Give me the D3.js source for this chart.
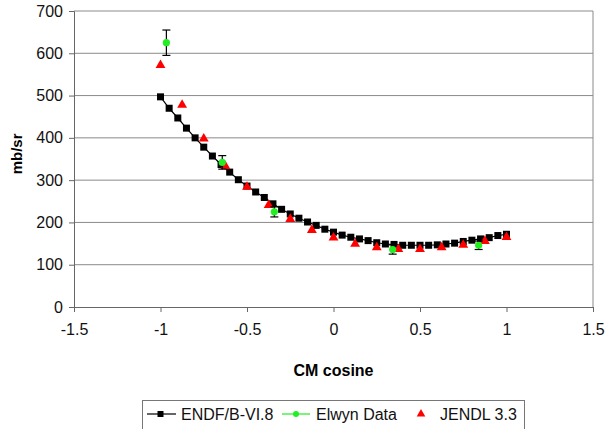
<!DOCTYPE html>
<html>
<head>
<meta charset="utf-8">
<script src="https://cdn.jsdelivr.net/npm/d3@7"></script>
<style>
  body { margin: 0; background: #fff; }
  text { font-family: "Liberation Sans", Arial, sans-serif; }
</style>
</head>
<body>
<svg id="chart" width="606" height="429"></svg>
<script>
// ENDF/B-VI.8 evaluation
let endfX = [-1, -0.95, -0.9, -0.85, -0.8, -0.75, -0.7, -0.65, -0.6, -0.55, -0.5,
             -0.45, -0.4, -0.35, -0.3, -0.25, -0.2, -0.15, -0.1, -0.05, 0,
             0.05, 0.1, 0.15, 0.2, 0.25, 0.3, 0.35, 0.4, 0.45, 0.5,
             0.55, 0.6, 0.65, 0.7, 0.75, 0.8, 0.85, 0.9, 0.95, 1];
let endfY = [497, 470, 447, 423, 400, 378, 357, 337, 319, 301, 286,
             272, 259, 244, 231, 220, 210, 201, 193, 184, 177,
             170, 165, 161, 157, 152, 149, 148, 146, 146, 146,
             146, 147, 149, 151, 155, 158, 161, 164, 169, 172];

// Elwyn measured data with error bars
let elwynX = [-0.966, -0.643, -0.342, 0.342, 0.839];
let elwynY = [625, 342, 225, 136, 146];
let elwynErr = [30, 16, 12, 11, 10];

// JENDL 3.3 evaluation
let jendlX = [-1, -0.875, -0.75, -0.625, -0.5, -0.375, -0.25, -0.125, 0,
              0.125, 0.25, 0.375, 0.5, 0.625, 0.75, 0.875, 1];
let jendlY = [572, 478, 398, 333, 284, 241, 208, 182, 164,
              149, 141, 137, 137, 141, 147, 156, 165];

let xTicks = [-1.5, -1, -0.5, 0, 0.5, 1, 1.5];
let yTicks = [0, 100, 200, 300, 400, 500, 600, 700];

let seriesNames = ['ENDF/B-VI.8', 'Elwyn Data', 'JENDL 3.3'];

let svg = d3.select('#chart');

// plot area
let margL = 74, margR = 13, margT = 11, margB = 122;
let width = 606, height = 429;

let xScale = d3.scaleLinear().domain([-1.5, 1.5]).range([margL, width - margR]);
let yScale = d3.scaleLinear().domain([0, 700]).range([height - margB, margT]);

// gridlines
svg.append('g')
    .selectAll('line')
    .data(yTicks.filter(d => d > 0))
    .enter()
    .append('line')
    .attr('x1', xScale(-1.5))
    .attr('x2', xScale(1.5))
    .attr('y1', d => yScale(d))
    .attr('y2', d => yScale(d))
    .attr('stroke', '#8a8a8a')
    .attr('stroke-width', 1);

// right border of plot area
svg.append('line')
    .attr('x1', xScale(1.5)).attr('x2', xScale(1.5))
    .attr('y1', yScale(700)).attr('y2', yScale(0))
    .attr('stroke', '#8a8a8a');

// axes
let xAxis = svg.append('g')
    .attr('transform', 'translate(0,' + yScale(0) + ')')
    .call(d3.axisBottom(xScale).tickValues(xTicks).tickSize(5).tickPadding(12).tickFormat(d => String(d)));
let yAxis = svg.append('g')
    .attr('transform', 'translate(' + xScale(-1.5) + ',0)')
    .call(d3.axisLeft(yScale).tickValues(yTicks).tickSize(5).tickPadding(6).tickFormat(d => String(d)));

[xAxis, yAxis].forEach(function(ax){
    ax.select('.domain').attr('stroke', '#666');
    ax.selectAll('.tick line').attr('stroke', '#666');
    ax.selectAll('text')
        .style('font-size', '16px')
        .attr('fill', '#111');
});

// axis titles
svg.append('text')
    .attr('x', (xScale(-1.5) + xScale(1.5)) / 2)
    .attr('y', 376)
    .attr('text-anchor', 'middle')
    .style('font-size', '16px')
    .style('font-weight', 'bold')
    .text('CM cosine');

svg.append('text')
    .attr('transform', 'translate(22,' + yScale(362) + ') rotate(-90)')
    .attr('text-anchor', 'middle')
    .style('font-size', '15px')
    .style('font-weight', 'bold')
    .text('mb/sr');

// ENDF line + squares
let endfData = endfX.map((x, i) => ({x: x, y: endfY[i]}));
let line = d3.line().x(d => xScale(d.x)).y(d => yScale(d.y));
svg.append('path')
    .datum(endfData)
    .attr('d', line)
    .attr('fill', 'none')
    .attr('stroke', '#000')
    .attr('stroke-width', 1.2);
svg.append('g')
    .selectAll('rect')
    .data(endfData)
    .enter()
    .append('rect')
    .attr('x', d => xScale(d.x) - 3.5)
    .attr('y', d => yScale(d.y) - 3.5)
    .attr('width', 7)
    .attr('height', 7)
    .attr('fill', '#000');

// JENDL triangles
let jendlData = jendlX.map((x, i) => ({x: x, y: jendlY[i]}));
let triangle = d3.symbol().type(d3.symbolTriangle).size(42);
svg.append('g')
    .selectAll('path')
    .data(jendlData)
    .enter()
    .append('path')
    .attr('d', triangle)
    .attr('transform', d => 'translate(' + xScale(d.x) + ',' + yScale(d.y) + ')')
    .attr('fill', '#ff0000');

// Elwyn data with error bars
let elwynData = elwynX.map((x, i) => ({x: x, y: elwynY[i], e: elwynErr[i]}));
let errGrp = svg.append('g').attr('stroke', '#000').attr('stroke-width', 1.2);
elwynData.forEach(function(d){
    let cx = xScale(d.x);
    errGrp.append('line')
        .attr('x1', cx).attr('x2', cx)
        .attr('y1', yScale(d.y - d.e)).attr('y2', yScale(d.y + d.e));
    [d.y - d.e, d.y + d.e].forEach(function(v){
        errGrp.append('line')
            .attr('x1', cx - 4).attr('x2', cx + 4)
            .attr('y1', yScale(v)).attr('y2', yScale(v));
    });
});
svg.append('g')
    .selectAll('circle')
    .data(elwynData)
    .enter()
    .append('circle')
    .attr('cx', d => xScale(d.x))
    .attr('cy', d => yScale(d.y))
    .attr('r', 3.6)
    .attr('fill', '#22ee22');

// legend
let legend = svg.append('g');
legend.append('rect')
    .attr('x', 142.5).attr('y', 400.5)
    .attr('width', 382).attr('height', 32)
    .attr('fill', '#fff')
    .attr('stroke', '#777');

let legendY = 414;
// ENDF entry
legend.append('line').attr('x1', 147).attr('x2', 176).attr('y1', legendY).attr('y2', legendY)
    .attr('stroke', '#000').attr('stroke-width', 1.2);
legend.append('rect').attr('x', 157.5).attr('y', legendY - 3).attr('width', 6).attr('height', 6).attr('fill', '#000');
// Elwyn entry
legend.append('line').attr('x1', 282).attr('x2', 310).attr('y1', legendY).attr('y2', legendY)
    .attr('stroke', '#22ee22').attr('stroke-width', 1.2);
legend.append('circle').attr('cx', 296).attr('cy', legendY).attr('r', 3).attr('fill', '#22ee22');
// JENDL entry
legend.append('path').attr('d', d3.symbol().type(d3.symbolTriangle).size(32))
    .attr('transform', 'translate(421,' + legendY + ')')
    .attr('fill', '#ff0000');

let legendTextX = [181, 316, 440];
legend.selectAll('.legendText')
    .data(seriesNames)
    .enter()
    .append('text')
    .attr('class', 'legendText')
    .attr('x', (d, i) => legendTextX[i])
    .attr('y', legendY)
    .attr('dy', '0.36em')
    .style('font-size', '16px')
    .attr('fill', '#111')
    .text(d => d);
</script>
</body>
</html>
